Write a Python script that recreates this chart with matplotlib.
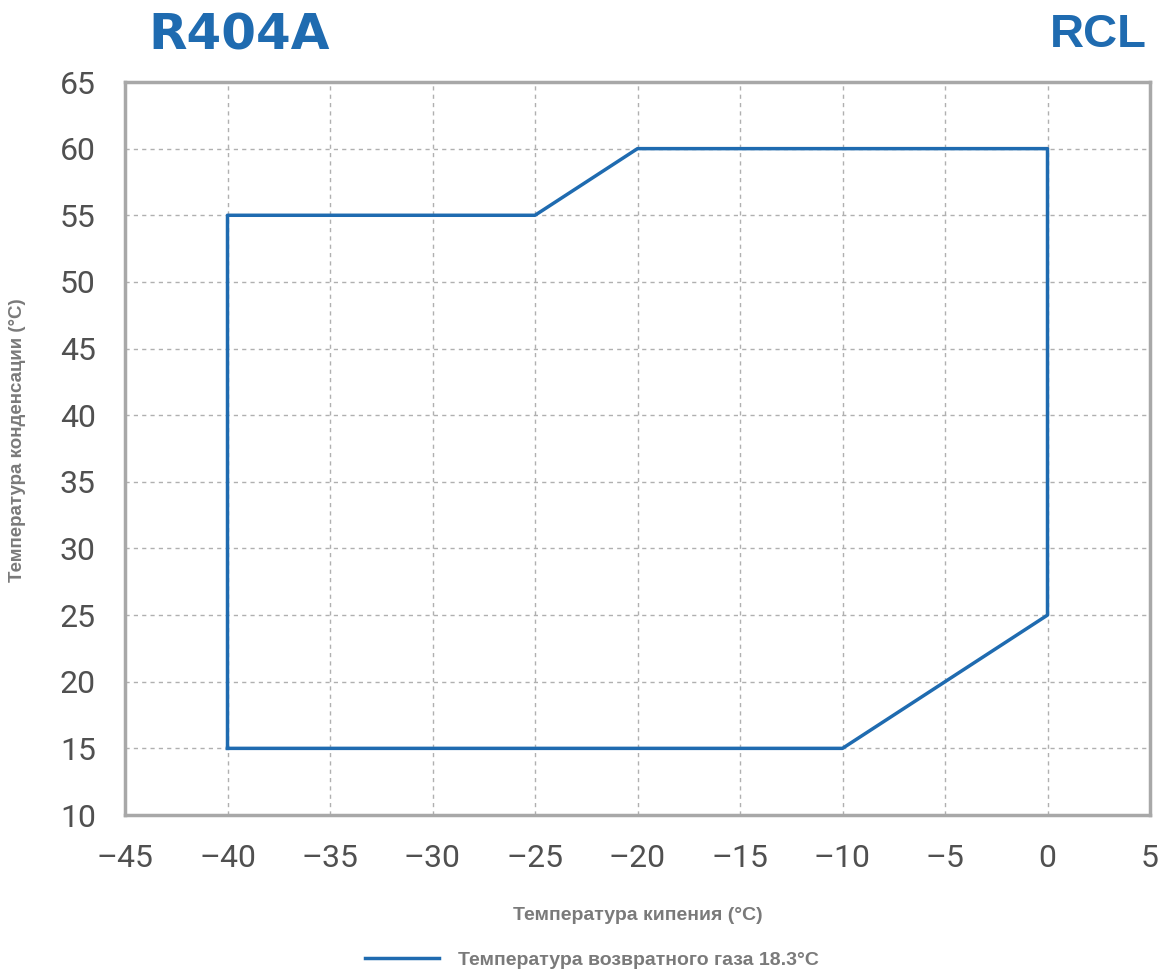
import matplotlib.pyplot as plt
from matplotlib.lines import Line2D

# Envelope of the compressor (evaporating vs condensing temperature)
evap_temp = [-40, -40, -25, -20, 0, 0, -10, -40]
cond_temp = [15, 55, 55, 60, 60, 25, 15, 15]
x_ticks = list(range(-45, 6, 5))
y_ticks = list(range(10, 66, 5))

blue = '#1f6bb0'
gray_txt = '#505050'
gray_lbl = '#7a7a7a'

fig = plt.figure(figsize=(11.6, 9.72), dpi=100)
ax = fig.add_axes([125 / 1160, 1 - 815 / 972, 1025 / 1160, 733 / 972])

ax.plot(evap_temp, cond_temp, color=blue, linewidth=2.5)

ax.set_xlim(-45, 5)
ax.set_ylim(10, 65)
ax.set_xticks(x_ticks)
ax.set_yticks(y_ticks)
ax.set_xticklabels([str(t).replace('-', '\u2013') for t in x_ticks])
ax.tick_params(axis='both', length=0, labelsize=23, colors=gray_txt, pad=21)
for lbl in ax.get_xticklabels() + ax.get_yticklabels():
    lbl.set_fontfamily('Roboto')
ax.grid(True, linestyle=(0, (3, 3)), color='#b0b0b0', linewidth=1)
for sp in ax.spines.values():
    sp.set_color('#a8a8a8')
    sp.set_linewidth(2.5)

ax.set_xlabel('Температура кипения (°C)', fontsize=14, color=gray_lbl,
              fontweight='bold', family='Liberation Sans', labelpad=24)
ax.set_ylabel('Температура конденсации (°C)', fontsize=13.5, color=gray_lbl,
              fontweight='bold', family='Liberation Sans', va='center')
ax.yaxis.set_label_coords(-107 / 1025, 0.512)

fig.text(239 / 1160, 1 - 35 / 972, 'R404A', color=blue, fontsize=36,
         fontweight='bold', family='DejaVu Sans', ha='center', va='center')
fig.text(1147 / 1160, 1 - 35 / 972, 'RCL', color=blue, fontsize=34,
         fontweight='bold', family='Liberation Sans', ha='right', va='center')

handle = Line2D([], [], color=blue, linewidth=2.5)
fig.legend([handle], ['Температура возвратного газа 18.3°C'],
           loc='center', bbox_to_anchor=(592 / 1160, 1 - 960 / 972),
           frameon=False, handlelength=3.8, handletextpad=1.0,
           prop={'family': 'Liberation Sans', 'weight': 'bold', 'size': 14})
for t in fig.legends[0].get_texts():
    t.set_color(gray_lbl)

fig.savefig('out.png', dpi=100, facecolor='white')
